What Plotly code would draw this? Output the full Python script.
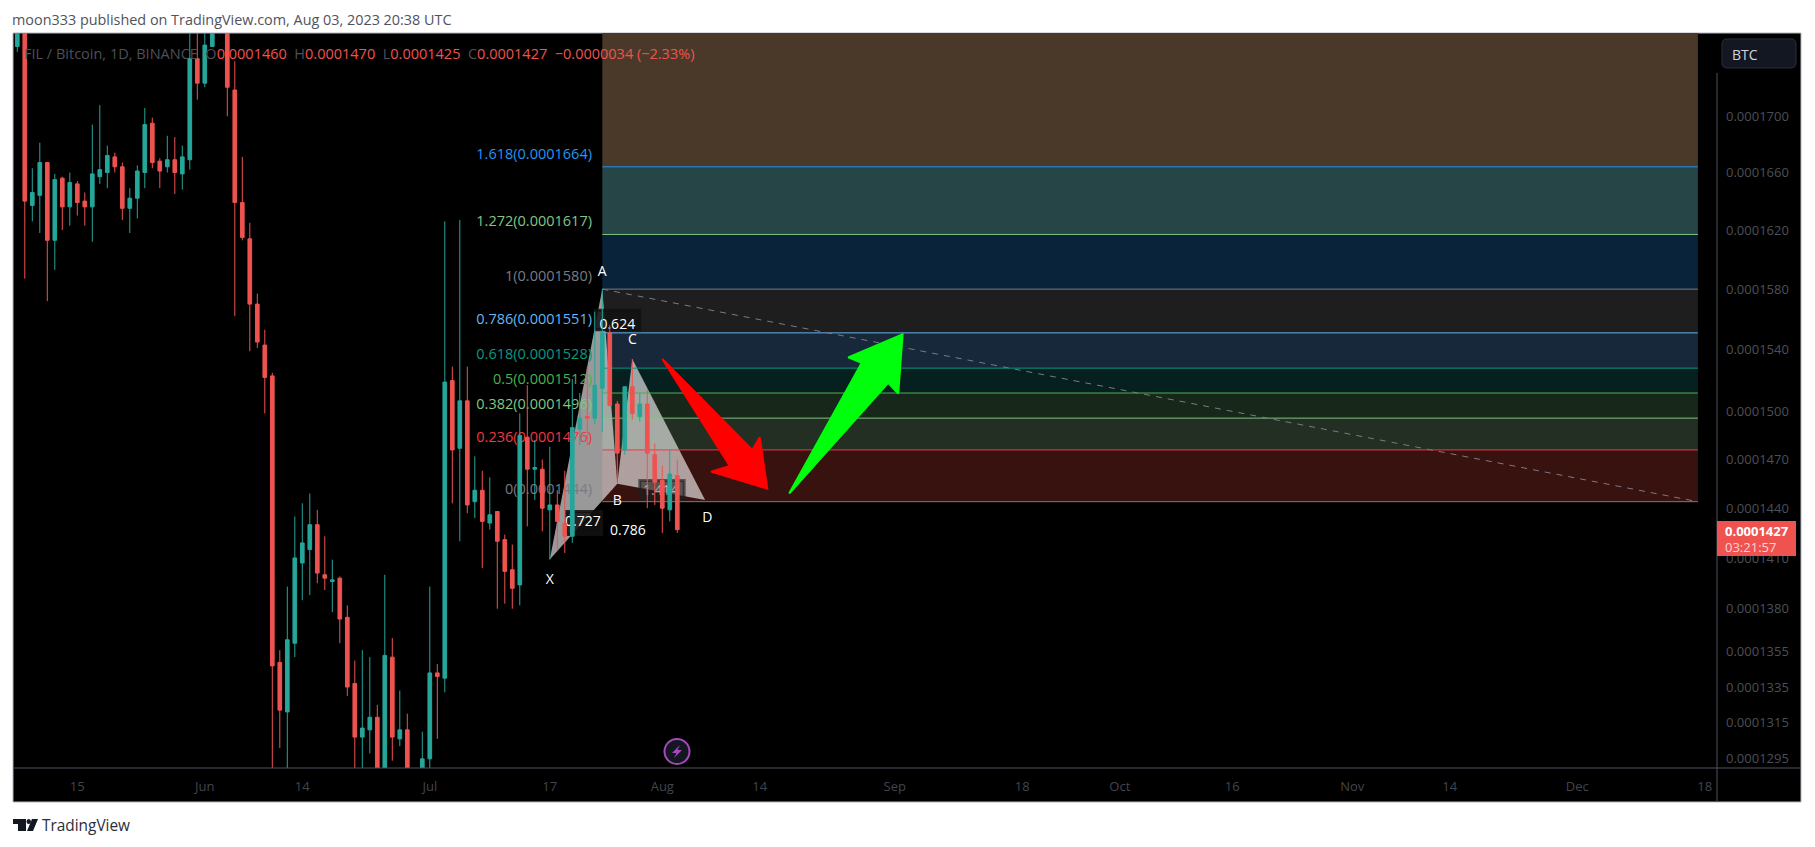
import numpy as np
import pandas as pd
import plotly.graph_objects as go

# prices in 1e-7 BTC
opens = [1751, 1790, 1637, 1644, 1667, 1613, 1656, 1636, 1652, 1640, 1636, 1657, 1660, 1671, 1664,
         1635, 1642, 1660, 1695, 1668, 1664, 1669, 1659, 1669, 1742, 1724, 1751, 1775, 1800, 1719,
         1639, 1614, 1570, 1543, 1523, 1349, 1321, 1360, 1407, 1415, 1430, 1400, 1396, 1398, 1375,
         1337, 1307, 1311, 1318, 1275, 1352, 1306, 1311, 1280, 1275, 1295, 1343, 1340, 1520, 1477,
         1507, 1444, 1451, 1431, 1438, 1421, 1403, 1394, 1484, 1464, 1464, 1439, 1442, 1431, 1423,
         1489, 1497, 1496, 1515, 1551, 1505, 1476, 1516, 1497, 1505, 1473, 1457, 1439, 1460]
highs = [1800, 1800, 1663, 1681, 1667, 1659, 1657, 1660, 1654, 1646, 1694, 1708, 1679, 1674, 1667,
         1649, 1665, 1706, 1699, 1670, 1686, 1685, 1679, 1775, 1765, 1775, 1785, 1810, 1810, 1740,
         1671, 1625, 1577, 1553, 1525, 1356, 1393, 1435, 1443, 1449, 1439, 1423, 1409, 1399, 1382,
         1350, 1356, 1352, 1325, 1400, 1363, 1333, 1320, 1285, 1310, 1393, 1348, 1626, 1529, 1627,
         1529, 1472, 1463, 1459, 1438, 1424, 1418, 1499, 1517, 1482, 1470, 1478, 1451, 1463, 1521,
         1512, 1529, 1565, 1580, 1556, 1507, 1516, 1534, 1512, 1514, 1480, 1466, 1476, 1470]
lows = [1747, 1587, 1626, 1618, 1572, 1593, 1620, 1623, 1630, 1623, 1612, 1652, 1649, 1660, 1627,
        1618, 1628, 1649, 1663, 1649, 1660, 1645, 1648, 1662, 1712, 1721, 1751, 1765, 1700, 1562,
        1613, 1539, 1541, 1499, 1280, 1301, 1280, 1352, 1385, 1388, 1395, 1391, 1378, 1360, 1330,
        1283, 1285, 1298, 1270, 1265, 1294, 1302, 1272, 1262, 1270, 1285, 1306, 1332, 1443, 1420,
        1437, 1434, 1404, 1427, 1380, 1383, 1380, 1382, 1429, 1445, 1426, 1409, 1415, 1413, 1419,
        1479, 1479, 1492, 1487, 1504, 1456, 1473, 1495, 1494, 1440, 1442, 1425, 1432, 1425]
closes = [1790, 1640, 1646, 1667, 1613, 1655, 1636, 1653, 1639, 1636, 1659, 1662, 1672, 1664, 1635,
          1642, 1661, 1694, 1667, 1661, 1669, 1660, 1671, 1742, 1724, 1752, 1775, 1795, 1721, 1639,
          1615, 1570, 1545, 1522, 1347, 1322, 1362, 1410, 1419, 1430, 1401, 1398, 1397, 1374, 1335,
          1307, 1312, 1318, 1280, 1353, 1307, 1311, 1280, 1270, 1295, 1343, 1341, 1519, 1476, 1507,
          1442, 1451, 1432, 1436, 1420, 1402, 1392, 1485, 1464, 1465, 1440, 1442, 1432, 1423, 1490,
          1496, 1496, 1517, 1551, 1504, 1474, 1516, 1499, 1505, 1474, 1456, 1440, 1461, 1427]
dates = pd.date_range("2023-05-07", periods=len(opens))

fib_ratios = ["0", "0.236", "0.382", "0.5", "0.618", "0.786", "1", "1.272", "1.618", "2.618"]
fib_prices = [1444, 1476, 1496, 1512, 1528, 1551, 1580, 1617, 1664, 1800]
fib_label_prices = [1451, 1483, 1504, 1520, 1536, 1559, 1588, 1625, 1672]
fib_line_colors = ["#787b86", "#f23645", "#81c784", "#4caf50", "#089981", "#64b5f6", "#787b86", "#81c784", "#2196f3"]
fib_zone_colors = ["#38120f", "#222f22", "#17271a", "#05201e", "#17283a", "#1e1e1e", "#08233a", "#254546", "#4a3929"]
fib_start = "2023-07-24"
fib_end = "2023-12-17 02:00"
fib_label_x = "2023-07-22 15:00"

xabcd_dates = ["2023-07-17", "2023-07-24", "2023-07-26", "2023-07-28", "2023-08-06 17:00"]
xabcd_prices = [1409, 1580, 1455, 1534, 1445]

point_names = ["X", "A", "B", "C", "D"]
point_dates = ["2023-07-17", "2023-07-24", "2023-07-26", "2023-07-28", "2023-08-07"]
point_prices = [1396.5, 1591.5, 1444, 1546, 1434]

ratio_names = ["0.624", "0.727", "0.786"]
ratio_dates = ["2023-07-26", "2023-07-21 10:00", "2023-07-27 10:00"]
ratio_prices = [1556, 1431.6, 1426]

red_arrow_dates = ["2023-08-01", "2023-08-13", "2023-08-14", "2023-08-15", "2023-08-07 12:00", "2023-08-10"]
red_arrow_prices = [1534, 1476, 1484, 1452, 1462.5, 1466]
green_arrow_dates = ["2023-08-17 22:00", "2023-08-27 14:00", "2023-08-25 19:00", "2023-09-02 01:00",
                     "2023-09-01 11:00", "2023-08-31 03:00"]
green_arrow_prices = [1449, 1531.4, 1535, 1550, 1511.6, 1518.5]

y_ticks = [1700, 1660, 1620, 1580, 1540, 1500, 1470, 1440, 1410, 1380, 1355, 1335, 1315, 1295]
x_ticks = ["2023-05-15", "2023-06-01", "2023-06-14", "2023-07-01", "2023-07-17", "2023-08-01", "2023-08-14",
           "2023-09-01", "2023-09-18", "2023-10-01", "2023-10-16", "2023-11-01", "2023-11-14", "2023-12-01",
           "2023-12-18"]
x_labels = ["15", "Jun", "14", "Jul", "17", "Aug", "14", "Sep", "18", "Oct", "16", "Nov", "14", "Dec", "18"]

UNIT = 1e-7
FONT = "Open Sans"
UP = "#26a69a"
DOWN = "#ef5350"
DIM = "#4d4f57"


def prices(values):
    return np.array(values, dtype=float) * UNIT


# page pixels to paper fractions, only for the frame around the plot
def px(x):
    return (x - 13) / 1704


def py(y):
    return (768 - y) / 735


def polygon(xs, ys, color, width=0):
    return go.Scatter(x=list(xs) + [xs[0]], y=list(prices(ys)) + [ys[0] * UNIT], mode="lines", fill="toself",
                      fillcolor=color, line=dict(color=color, width=width), hoverinfo="skip", zorder=-1)


def text_layer(xs, ys, labels, color, size=14):
    return go.Scatter(x=xs, y=prices(ys), mode="text", text=labels, textposition="middle center",
                      textfont=dict(family=FONT, size=size, color=color), hoverinfo="skip", zorder=-1)


fig = go.Figure()

# fib zones
for i, color in enumerate(fib_zone_colors):
    fig.add_trace(polygon([fib_start, fib_end, fib_end, fib_start],
                          [fib_prices[i], fib_prices[i], fib_prices[i + 1], fib_prices[i + 1]], color))

# harmonic pattern
fig.add_trace(polygon(xabcd_dates[:3], xabcd_prices[:3], "rgba(255,255,255,0.6)"))
fig.add_trace(polygon(xabcd_dates[2:], xabcd_prices[2:], "rgba(255,255,255,0.6)"))

# dark boxes behind the ratio labels
fig.add_trace(polygon(["2023-07-19 06:00", "2023-07-23 22:00", "2023-07-23 22:00", "2023-07-19 06:00"],
                      [1424, 1424, 1438, 1438], "rgba(18,18,18,0.85)", 3))
fig.add_trace(polygon(["2023-07-23", "2023-07-29", "2023-07-29", "2023-07-23"],
                      [1553, 1553, 1566, 1566], "rgba(18,18,18,0.85)", 3))
fig.add_trace(polygon(["2023-07-29", "2023-08-03 22:00", "2023-08-03 22:00", "2023-07-29"],
                      [1445, 1445, 1457, 1457], "rgba(30,30,30,0.6)", 3))

# fib level lines and labels
for i, color in enumerate(fib_line_colors):
    fig.add_trace(go.Scatter(x=[fib_start, fib_end], y=prices([fib_prices[i], fib_prices[i]]), mode="lines",
                             line=dict(color=color, width=1), hoverinfo="skip", zorder=-1))
    label = f"{fib_ratios[i]}({fib_prices[i] * UNIT:.7f})"
    fig.add_trace(go.Scatter(x=[fib_label_x], y=prices([fib_label_prices[i]]), mode="text", text=[label],
                             textposition="middle left", textfont=dict(family=FONT, size=14.5, color=color),
                             hoverinfo="skip", zorder=-1))

fig.add_trace(go.Scatter(x=[fib_start, fib_end], y=prices([fib_prices[6], fib_prices[0]]), mode="lines",
                         line=dict(color="#787b86", width=1, dash="6px,6px"), hoverinfo="skip", zorder=-1))

fig.add_trace(text_layer(point_dates, point_prices, point_names, "#ffffff"))
fig.add_trace(text_layer(ratio_dates, ratio_prices, ratio_names, "#ffffff"))
fig.add_trace(text_layer(["2023-07-31 19:00"], [1450], ["1.414"], "rgba(255,255,255,0.6)"))

fig.add_trace(polygon(red_arrow_dates, red_arrow_prices, "#ff0000", 2))
fig.add_trace(polygon(green_arrow_dates, green_arrow_prices, "#00ff0c", 2))

fig.add_trace(go.Candlestick(x=dates, open=prices(opens), high=prices(highs), low=prices(lows), close=prices(closes),
                             increasing=dict(line=dict(color=UP, width=1), fillcolor=UP),
                             decreasing=dict(line=dict(color=DOWN, width=1), fillcolor=DOWN),
                             hoverinfo="skip"))

shapes = [
    dict(type="rect", xref="paper", yref="paper", x0=px(13), x1=px(1801), y0=py(33), y1=py(802), layer="below",
         fillcolor="#000000", line=dict(color="#b2b5be", width=1)),
    dict(type="line", xref="paper", yref="paper", x0=px(13), x1=px(1801), y0=py(768), y1=py(768),
         line=dict(color="#50535e", width=1)),
    dict(type="line", xref="paper", yref="paper", x0=px(1717), x1=px(1717), y0=py(73), y1=py(802),
         line=dict(color="#50535e", width=1)),
    # BTC button with rounded corners
    dict(type="path", xref="paper", yref="paper", fillcolor="#131722", line=dict(color="#2a2e39", width=1),
         path=f"M {px(1727)} {py(39)} L {px(1791)} {py(39)} Q {px(1796)} {py(39)} {px(1796)} {py(44)} "
              f"L {px(1796)} {py(63)} Q {px(1796)} {py(68)} {px(1791)} {py(68)} L {px(1727)} {py(68)} "
              f"Q {px(1722)} {py(68)} {px(1722)} {py(63)} L {px(1722)} {py(44)} Q {px(1722)} {py(39)} {px(1727)} {py(39)} Z"),
    dict(type="rect", xref="paper", yref="paper", x0=px(1717), x1=px(1796), y0=py(521), y1=py(556),
         fillcolor=DOWN, line=dict(width=0)),
    # alert bolt
    dict(type="circle", xref="paper", yref="paper", x0=px(664.5), x1=px(689.5), y0=py(739), y1=py(764),
         fillcolor="#131722", line=dict(color="#ab47bc", width=2)),
    dict(type="path", xref="paper", yref="paper", line=dict(width=0), fillcolor="#ab47bc",
         path=f"M {px(680)} {py(745)} L {px(672)} {py(753)} L {px(676.5)} {py(753)} L {px(674)} {py(758)} "
              f"L {px(682)} {py(750)} L {px(677.5)} {py(750)} Z"),
    # logo
    dict(type="path", xref="paper", yref="paper", line=dict(width=0), fillcolor="#131722",
         path=f"M {px(13)} {py(819)} L {px(26)} {py(819)} L {px(26)} {py(831)} L {px(18)} {py(831)} "
              f"L {px(18)} {py(824)} L {px(13)} {py(824)} Z"),
    dict(type="circle", xref="paper", yref="paper", x0=px(26.5), x1=px(31), y0=py(819), y1=py(824),
         fillcolor="#131722", line=dict(width=0)),
    dict(type="path", xref="paper", yref="paper", line=dict(width=0), fillcolor="#131722",
         path=f"M {px(32)} {py(819)} L {px(38)} {py(819)} L {px(33)} {py(831)} L {px(27)} {py(831)} Z"),
]

legend_text = (
    f'<span style="color:{DIM}">FIL / Bitcoin, 1D, BINANCE&nbsp;&nbsp;O</span>0.0001460'
    f'&nbsp;&nbsp;<span style="color:{DIM}">H</span>0.0001470'
    f'&nbsp;&nbsp;<span style="color:{DIM}">L</span>0.0001425'
    f'&nbsp;&nbsp;<span style="color:{DIM}">C</span>0.0001427'
    '&nbsp;&nbsp;−0.0000034 (−2.33%)'
)


def page_text(x, y, text, color, size=12.5, anchor="left", family=FONT):
    return dict(xref="paper", yref="paper", x=px(x), y=py(y), text=text, showarrow=False, xanchor=anchor,
                yanchor="middle", font=dict(family=family, size=size, color=color))


annotations = [
    page_text(10, 20, "moon333 published on TradingView.com, Aug 03, 2023 20:38 UTC", "#50535e", 14.4),
    page_text(22, 53, legend_text, DOWN, 14.5),
    page_text(1730, 54, "BTC", "#d1d4dc", 14),
    page_text(1723, 531, "<b>0.0001427</b>", "#ffffff", 13),
    page_text(1723, 547, "03:21:57", "#fbd5d5", 13),
    page_text(40, 825, "TradingView", "#2a2e39", 15.4),
]

fig.update_layout(
    width=1815, height=847, margin=dict(l=13, r=98, t=33, b=79, autoexpand=False),
    paper_bgcolor="#ffffff", plot_bgcolor="rgba(0,0,0,0)", showlegend=False,
    shapes=shapes, annotations=annotations, hovermode=False,
)
fig.update_xaxes(type="date", range=["2023-05-06 10:14", "2023-12-19 15:07"], rangeslider_visible=False,
                 tickmode="array", tickvals=x_ticks, ticktext=x_labels, showgrid=False, zeroline=False, ticks="",
                 ticklabelstandoff=9, tickfont=dict(family=FONT, size=13, color="#43454d"))
fig.update_yaxes(type="log", range=[np.log10(1290 * UNIT), np.log10(1761 * UNIT)], side="right",
                 tickmode="array", tickvals=prices(y_ticks), ticktext=[f"{t * UNIT:.7f}" for t in y_ticks],
                 showgrid=False, zeroline=False, ticks="", ticklabelstandoff=8,
                 tickfont=dict(family=FONT, size=13, color=DIM))

# the page's default body margin would push the figure off its frame
fig.write_html("out.html", config=dict(displayModeBar=False), post_script="document.body.style.margin = '0';")
